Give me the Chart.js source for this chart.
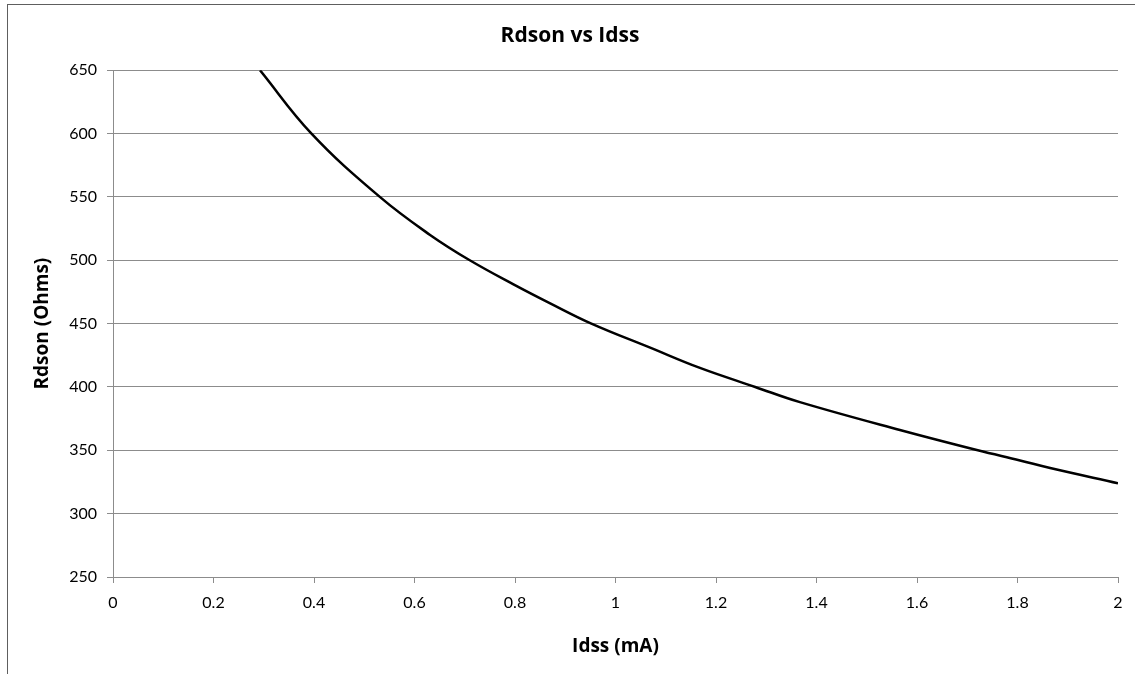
<!DOCTYPE html>
<html>
<head>
<meta charset="utf-8">
<script src="https://cdn.jsdelivr.net/npm/chart.js@4.4.1/dist/chart.umd.min.js"></script>
<style>
  html, body { margin: 0; padding: 0; background: #ffffff; }
  #wrap { position: relative; width: 1135px; height: 674px; overflow: hidden; }
  #frame { position: absolute; left: 7px; top: 4px; right: -5px; bottom: -5px;
           border-top: 1.5px solid #5e5e5e; border-left: 1.5px solid #5e5e5e; pointer-events: none; }
  canvas { position: absolute; left: 0; top: 0; }
</style>
</head>
<body>
<div id="wrap">
  <canvas id="c" width="1135" height="674"></canvas>
  <div id="frame"></div>
</div>
<script>
// Data
const idss  = [0.2925, 0.395, 0.531, 0.631, 0.710, 0.797, 0.870, 0.952, 1.069, 1.168, 1.278, 1.367, 1.566, 1.721, 1.805, 1.865, 2.0];
const rdson = [650,    600,   550,   520,   500,   481,   466,   450,   431,   415,   400,   388,   366,   350,   342,   336,   324];
const xTicks = [0, 0.2, 0.4, 0.6, 0.8, 1, 1.2, 1.4, 1.6, 1.8, 2];
const yTicks = [250, 300, 350, 400, 450, 500, 550, 600, 650];
const chartTitle = 'Rdson vs Idss';
const xTitle = 'Idss (mA)';
const yTitle = 'Rdson (Ohms)';

const FONT = 'Lato, "Open Sans", sans-serif';
const TFONT = '"Open Sans", Lato, sans-serif';
const GRID = '#8c8c8c';

const points = idss.map((x, i) => ({ x: x, y: rdson[i] }));

new Chart(document.getElementById('c'), {
  type: 'scatter',
  data: {
    datasets: [{
      data: points,
      showLine: true,
      borderColor: '#000000',
      borderWidth: 2.5,
      pointRadius: 0,
      tension: 0.4,
      fill: false
    }]
  },
  options: {
    responsive: false,
    animation: false,
    devicePixelRatio: 1,
    layout: { padding: { left: 22, right: 17, top: 0, bottom: 0 } },
    plugins: {
      legend: { display: false },
      tooltip: { enabled: false },
      title: {
        display: true,
        text: chartTitle,
        color: '#000000',
        font: { family: TFONT, size: 21, weight: 'bold' },
        padding: { top: 23, bottom: 22 }
      }
    },
    scales: {
      x: {
        type: 'linear',
        min: 0, max: 2,
        afterBuildTicks: (s) => { s.ticks = xTicks.map(v => ({ value: v })); },
        afterFit: (s) => { s.height = 97; },
        ticks: {
          color: '#000000',
          font: { family: FONT, size: 16 },
          padding: 10,
          maxRotation: 0,
          autoSkip: false,
          callback: (v) => String(v)
        },
        grid: { drawOnChartArea: false, drawTicks: true, tickLength: 6, color: GRID, lineWidth: 1 },
        border: { display: true, color: GRID, width: 1 },
        title: {
          display: true,
          text: xTitle,
          color: '#000000',
          font: { family: TFONT, size: 19, weight: 'bold' },
          padding: { top: 0, bottom: 16 }
        }
      },
      y: {
        type: 'linear',
        min: 250, max: 650,
        afterBuildTicks: (s) => { s.ticks = yTicks.map(v => ({ value: v })); },
        afterFit: (s) => { s.width = 91; },
        ticks: {
          color: '#000000',
          font: { family: FONT, size: 16 },
          padding: 10,
          callback: (v) => String(v)
        },
        grid: { drawOnChartArea: true, drawTicks: true, tickLength: 6, color: GRID, lineWidth: 1 },
        border: { display: true, color: GRID, width: 1 },
        title: {
          display: true,
          text: yTitle,
          color: '#000000',
          font: { family: TFONT, size: 19, weight: 'bold' },
          padding: { top: 9, bottom: 0 }
        }
      }
    }
  }
});
</script>
</body>
</html>
